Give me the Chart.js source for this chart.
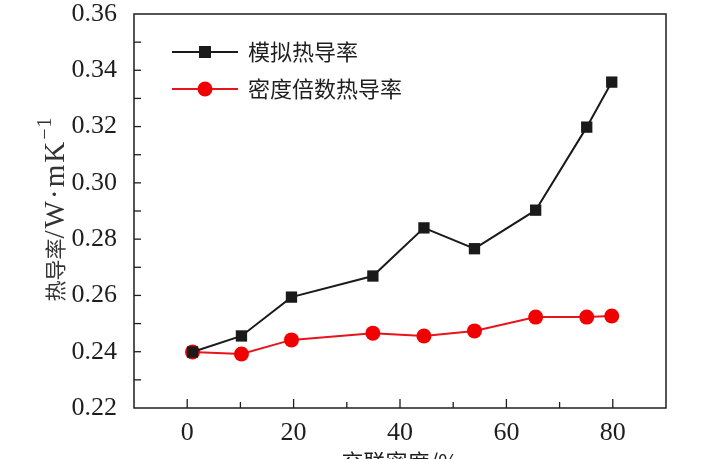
<!DOCTYPE html>
<html>
<head>
<meta charset="utf-8">
<script src="https://cdn.jsdelivr.net/npm/chart.js@4/dist/chart.umd.min.js"></script>
<style>
  html, body { margin: 0; padding: 0; background: #fff; }
  canvas { display: block; }
</style>
</head>
<body>
<canvas id="chart" width="720" height="459"></canvas>
<script>
// crosslink density (%)
const density   = [1, 10.2, 19.6, 34.9, 44.5, 54, 65.5, 75.1, 79.8];
// simulated thermal conductivity
const simK      = [0.2399, 0.2456, 0.2594, 0.2669, 0.2840, 0.2766, 0.2903, 0.3198, 0.3358];
// density-multiple thermal conductivity
const densK     = [0.2399, 0.2392, 0.2442, 0.2466, 0.2456, 0.2474, 0.2523, 0.2523, 0.2527];
const seriesNames = ['模拟热导率', '密度倍数热导率'];
const xTickLabels = ['0', '20', '40', '60', '80'];
const yTickLabels = ['0.22', '0.24', '0.26', '0.28', '0.30', '0.32', '0.34', '0.36'];

const serif = '"Liberation Serif", "DejaVu Serif", serif';
const cjk   = '"Noto Sans CJK SC", sans-serif';
const ink   = '#1e1e1e';

const pts = (ys) => density.map((x, i) => ({ x: x, y: ys[i] }));

const frame = {
  id: 'frame',
  afterDraw(chart) {
    const { ctx, chartArea: a, scales } = chart;
    ctx.save();
    ctx.strokeStyle = ink;
    ctx.lineWidth = 1.5;
    ctx.strokeRect(a.left, a.top, a.right - a.left, a.bottom - a.top);

    // inward tick marks
    ctx.lineWidth = 1.3;
    scales.x.ticks.forEach(t => {
      const px = scales.x.getPixelForValue(t.value);
      if (px <= a.left + 1 || px >= a.right - 1) return;
      const len = xTickLabels.includes(String(t.value)) ? 9 : 6;
      ctx.beginPath(); ctx.moveTo(px, a.bottom); ctx.lineTo(px, a.bottom - len); ctx.stroke();
    });
    scales.y.ticks.forEach(t => {
      const py = scales.y.getPixelForValue(t.value);
      if (py <= a.top + 1 || py >= a.bottom - 1) return;
      ctx.beginPath(); ctx.moveTo(a.left, py); ctx.lineTo(a.left + 7, py); ctx.stroke();
    });

    // legend
    chart.data.datasets.forEach((ds, i) => {
      const y = 52 + i * 37;
      ctx.strokeStyle = ds.borderColor;
      ctx.lineWidth = 2;
      ctx.beginPath(); ctx.moveTo(172, y); ctx.lineTo(238, y); ctx.stroke();
      ctx.fillStyle = ds.pointBackgroundColor;
      if (ds.pointStyle === 'rect') {
        ctx.fillRect(199, y - 6, 12, 12);
      } else {
        ctx.beginPath(); ctx.arc(205, y, 7.5, 0, Math.PI * 2); ctx.fill();
      }
      ctx.fillStyle = ink;
      ctx.font = '22px ' + cjk;
      ctx.textBaseline = 'middle';
      ctx.textAlign = 'left';
      ctx.fillText(ds.label, 248, y);
    });

    // y title
    ctx.save();
    ctx.translate(55, 209);
    ctx.rotate(-Math.PI / 2);
    const parts = [
      ['热导率', '21px ' + cjk, 0, '0px'],
      ['/W·mK', '29px ' + serif, 1, '2px'],
      ['−1', '20px ' + serif, -9, '1px']
    ];
    let total = 0;
    parts.forEach(p => { ctx.font = p[1]; ctx.letterSpacing = p[3]; total += ctx.measureText(p[0]).width; });
    let cx = -total / 2;
    ctx.fillStyle = '#333';
    ctx.textBaseline = 'middle';
    ctx.textAlign = 'left';
    parts.forEach(p => {
      ctx.font = p[1];
      ctx.letterSpacing = p[3];
      ctx.fillText(p[0], cx, p[2]);
      cx += ctx.measureText(p[0]).width;
    });
    ctx.letterSpacing = '0px';
    ctx.restore();

    // x title (cut by the bottom edge)
    ctx.fillStyle = ink;
    ctx.font = '22px ' + cjk;
    ctx.textAlign = 'center';
    ctx.textBaseline = 'top';
    ctx.fillText('交联密度/%', (a.left + a.right) / 2, 451);
    ctx.restore();
  }
};

new Chart(document.getElementById('chart'), {
  type: 'line',
  data: {
    datasets: [{
      label: seriesNames[0],
      data: pts(simK),
      borderColor: '#1a1a1a',
      backgroundColor: '#1a1a1a',
      pointBackgroundColor: '#1a1a1a',
      pointBorderWidth: 0,
      pointStyle: 'rect',
      pointRadius: 8,
      borderWidth: 2,
      tension: 0
    }, {
      label: seriesNames[1],
      data: pts(densK),
      borderColor: '#e8141c',
      backgroundColor: '#f00000',
      pointBackgroundColor: '#f00000',
      pointBorderWidth: 0,
      pointStyle: 'circle',
      pointRadius: 7.5,
      borderWidth: 2,
      tension: 0
    }]
  },
  options: {
    responsive: false,
    animation: false,
    layout: { padding: { left: 0, right: 54, top: 14, bottom: 0 } },
    plugins: { legend: { display: false }, tooltip: { enabled: false } },
    scales: {
      x: {
        type: 'linear',
        min: -10, max: 90,
        grid: { display: false },
        border: { display: false },
        afterFit: (s) => { s.height = 51; s.paddingLeft = 0; s.paddingRight = 0; },
        ticks: {
          stepSize: 10,
          autoSkip: false,
          maxRotation: 0,
          padding: 2,
          color: ink,
          font: { family: serif, size: 26 },
          callback: (v) => xTickLabels.includes(String(v)) ? String(v) : ''
        }
      },
      y: {
        min: 0.22, max: 0.36,
        grid: { display: false },
        border: { display: false },
        afterFit: (s) => { s.width = 134; s.paddingTop = 0; s.paddingBottom = 0; },
        ticks: {
          stepSize: 0.01,
          autoSkip: false,
          padding: 9,
          color: ink,
          font: { family: serif, size: 26 },
          callback: (v) => {
            const s = v.toFixed(2);
            return yTickLabels.includes(s) ? s : '';
          }
        }
      }
    }
  },
  plugins: [frame]
});
</script>
</body>
</html>
